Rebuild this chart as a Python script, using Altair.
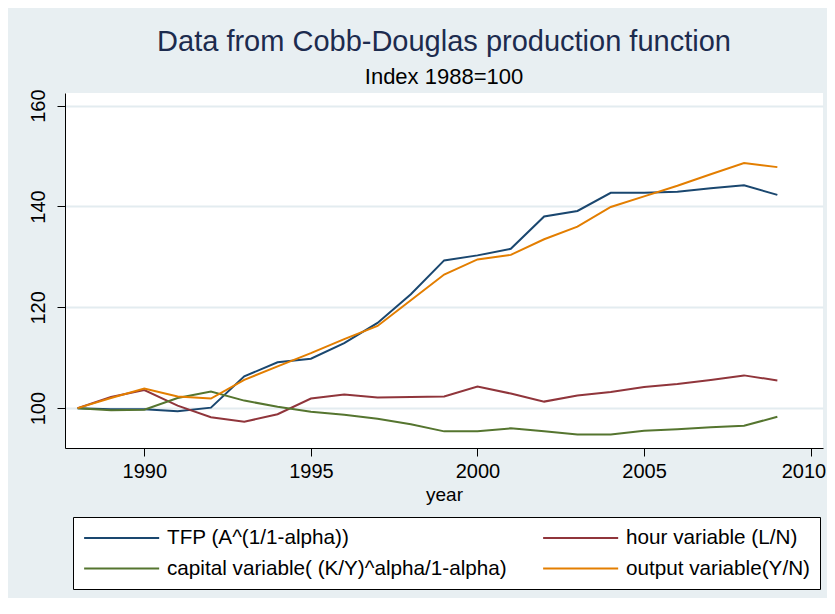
import altair as alt
import pandas as pd

years = list(range(1988, 2010))
tfp = [100.0, 99.8, 99.8, 99.4, 100.1, 106.3, 109.1, 109.8, 112.9, 116.9, 122.6,
       129.3, 130.3, 131.6, 138.0, 139.1, 142.7, 142.7, 142.9, 143.6, 144.2, 142.3]
hour = [100.0, 102.2, 103.6, 100.5, 98.2, 97.3, 98.8, 101.9, 102.7, 102.1, 102.2,
        102.3, 104.3, 102.9, 101.3, 102.5, 103.2, 104.2, 104.8, 105.6, 106.5, 105.5]
capital = [100.0, 99.6, 99.7, 102.0, 103.3, 101.5, 100.3, 99.3, 98.7, 97.9, 96.8,
           95.4, 95.4, 96.0, 95.4, 94.8, 94.8, 95.5, 95.8, 96.2, 96.5, 98.3]
output = [100.0, 102.0, 103.9, 102.3, 101.9, 105.6, 108.3, 110.9, 113.7, 116.3, 121.4,
          126.5, 129.5, 130.4, 133.5, 136.0, 139.9, 142.0, 144.1, 146.4, 148.6, 147.8]

names = ["TFP (A^(1/1-alpha))", "hour variable (L/N)",
         "capital variable( (K/Y)^alpha/1-alpha)", "output variable(Y/N)"]
colors = ["#1a476f", "#90353b", "#55752f", "#e37e00"]
# legend fills column by column: left column TFP, capital; right column hour, output
legend_order = [0, 2, 1, 3]
x_ticks = [1990, 1995, 2000, 2005, 2010]
y_ticks = [100, 120, 140, 160]

rows = []
for k, (name, vals) in enumerate(zip(names, [tfp, hour, capital, output])):
    for yr, v in zip(years, vals):
        rows.append({"year": yr, "value": v, "series": name, "k": k})
df = pd.DataFrame(rows)

FONT = "Liberation Sans"

chart = alt.Chart(df).mark_line(strokeWidth=2).encode(
    x=alt.X("year:Q",
            scale=alt.Scale(domain=[1987.62, 2010.37], nice=False, zero=False),
            axis=alt.Axis(values=x_ticks, format="d", title="year", grid=False,
                          labelFontSize=20, labelPadding=5, titleFontSize=19,
                          titlePadding=4, labelFlush=13, labelFlushOffset=15)),
    y=alt.Y("value:Q",
            scale=alt.Scale(domain=[92.1, 162.5], nice=False, zero=False),
            axis=alt.Axis(values=y_ticks, title=None, grid=True,
                          gridColor="#e3ecf0", gridWidth=2,
                          labelAngle=270, labelAlign="center",
                          labelBaseline="alphabetic", labelPadding=13,
                          labelFontSize=20)),
    color=alt.Color("series:N",
                    scale=alt.Scale(domain=[names[i] for i in legend_order],
                                    range=[colors[i] for i in legend_order]),
                    legend=alt.Legend(title=None, orient="none", legendX=8, legendY=424,
                                      columns=2, symbolType="M-1,0H7", symbolSize=352,
                                      symbolStrokeWidth=2, labelFont=FONT,
                                      labelFontSize=20.7, labelColor="#000",
                                      labelOffset=63, columnPadding=32, rowPadding=9,
                                      padding=10, strokeColor="#000", fillColor="#fff",
                                      labelLimit=600)),
    order=alt.Order("k:Q"),
).properties(
    width=758,
    height=355,
    autosize=alt.AutoSizeParams(type="none"),
    padding={"left": 57, "top": 85, "right": 4, "bottom": 150},
    background="#e8eff2",
    title=alt.TitleParams(text="Data from Cobb-Douglas production function",
                          subtitle="Index 1988=100", font=FONT, subtitleFont=FONT,
                          fontSize=29, subtitleFontSize=22, fontWeight="normal",
                          color="#1c2b4e", subtitleColor="#000", anchor="middle",
                          frame="group", offset=1, subtitlePadding=9.5),
).configure_view(fill="white", stroke=None).configure_axis(
    labelFont=FONT, titleFont=FONT, labelColor="#000", titleColor="#000",
    domainColor="#000", tickColor="#000", tickSize=8, domainWidth=1,
    titleFontWeight="normal",
)

chart.save("out.html", embed_options={"renderer": "svg", "actions": False})
